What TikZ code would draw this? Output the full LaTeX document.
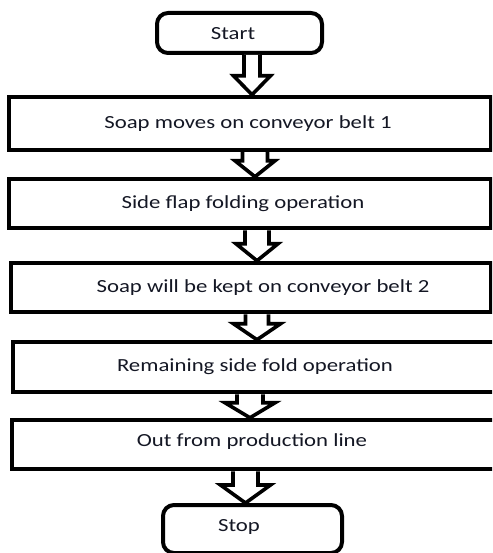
\documentclass[tikz,border=0pt]{standalone}
\usepackage{fontspec}
\setmainfont{Carlito}[FakeStretch=1.23]
\usetikzlibrary{calc}
\definecolor{txt}{rgb}{0.08,0.09,0.14}
\tikzset{
  procbox/.style={draw=black, line width=4.5pt, fill=white, inner sep=0pt},
  termbox/.style={draw=black, line width=4pt, fill=white, rounded corners=11pt, inner sep=0pt},
  lbl/.style={text=txt, font=\fontsize{18.5}{22}\selectfont, inner sep=0pt, anchor=center},
  blk/.style={draw=black, line width=3.6pt, fill=white, line join=miter},
}
% block arrow: from node #1 (south) to node #2 (north); centre x #3, shaft half width #4, head half width #5, head height #6
\newcommand\blockarrow[6]{%
  \draw[blk] let \p1=(#1.south), \p2=(#2.north) in
    ({(#3-#4)*1pt},\y1) -- ({(#3-#4)*1pt},{\y2+#6*1pt}) -- ({(#3-#5)*1pt},{\y2+#6*1pt})
    -- ({#3*1pt},\y2) -- ({(#3+#5)*1pt},{\y2+#6*1pt}) -- ({(#3+#4)*1pt},{\y2+#6*1pt})
    -- ({(#3+#4)*1pt},\y1);}
\begin{document}
\begin{tikzpicture}[x=1pt,y=-1pt]
\useasboundingbox (0,0) rectangle (492,553);
\clip (0,0) rectangle (492,553);
\fill[white] (0,0) rectangle (492,553);
% terminals
\node[termbox, minimum width=165pt, minimum height=40pt] (start) at (239.5,33) {};
\node[termbox, minimum width=179pt, minimum height=48pt] (stop) at (252.5,529) {};
% process boxes
\node[procbox, minimum width=482pt, minimum height=53pt] (b1) at (250,123.5) {};
\node[procbox, minimum width=482pt, minimum height=49pt] (b2) at (250,203.5) {};
\node[procbox, minimum width=480pt, minimum height=49pt] (b3) at (251,287.5) {};
\node[procbox, minimum width=500pt, minimum height=50pt] (b4) at (263,367) {};
\node[procbox, minimum width=500pt, minimum height=49pt] (b5) at (262,444.5) {};
% arrows
\blockarrow{start}{b1}{252}{8}{18.5}{19}
\blockarrow{b1}{b2}{255}{12.5}{20}{16}
\blockarrow{b2}{b3}{257}{12}{21}{17}
\blockarrow{b3}{b4}{257}{11.5}{23.5}{16}
\blockarrow{b4}{b5}{250}{13}{25}{15}
\blockarrow{b5}{stop}{245.5}{12.5}{25}{18}
% texts
\node[lbl] (tstart) at (233,34) {Start};
\node[lbl] (t1) at (248,124) {Soap moves on conveyor belt 1};
\node[lbl] (t2) at (243,204) {Side flap folding operation};
\node[lbl] (t3) at (263,288) {Soap will be kept on conveyor belt 2};
\node[lbl] (t4) at (255,367) {Remaining side fold operation};
\node[lbl] (t5) at (252,442) {Out from production line};
\node[lbl] (tstop) at (239,527) {Stop};
\end{tikzpicture}
\end{document}
